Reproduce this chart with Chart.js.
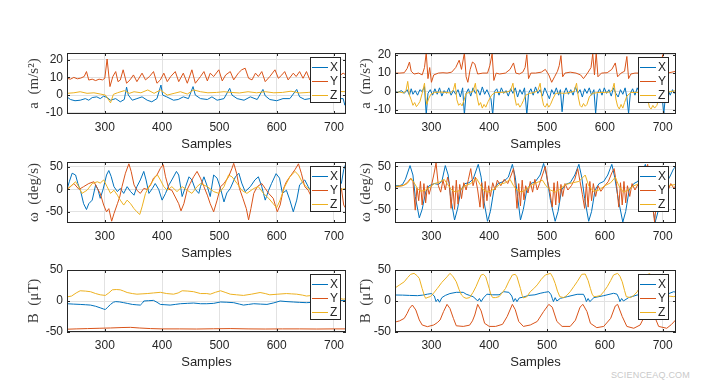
<!DOCTYPE html>
<html>
<head>
<meta charset="utf-8">
<script src="https://cdn.jsdelivr.net/npm/chart.js@4.4.1/dist/chart.umd.min.js"></script>
<style>
  html, body { margin: 0; padding: 0; background: #fff; }
  body { width: 707px; height: 384px; position: relative; overflow: hidden; }
  .panel { position: absolute; }
  .mark { position: absolute; right: 17px; top: 370px; font: 9px "Liberation Sans", Arial, sans-serif; color: #c9c9c9; letter-spacing: 0.2px; }
</style>
</head>
<body>
<div class="mark">SCIENCEAQ.COM</div>
<script>
// series labels / colours (MATLAB defaults)
const seriesNames = ['X', 'Y', 'Z'];
const seriesColors = ['#0072BD', '#D95319', '#EDB120'];

// tick labels
const sampleTicks = [300, 400, 500, 600, 700];
const accTicks = [-10, 0, 10, 20];
const gyroTicks = [-50, 0, 50];
const magTicks = [-50, 0, 50];

// axis limits
const leftSampleRange = [234, 721];
const rightSampleRange = [237, 723];
const accLeftRange = [-10.7, 23.8];
const accRightRange = [-12.2, 20.9];
const gyroLeftRange = [-75, 61];
const gyroRightRange = [-82, 60.4];
const magRange = [-50, 50];

// ---- accelerometer, left ----  [sample, value]
const accLeftX = [[234,-1],[240,-2.5],[248,-3.2],[257,-2.9],[266,-2],[272,-2.9],[278,-1.4],[286,-1],[292,-2],[298,-0.6],[304,-1.4],[310,-2.9],[319,-2],[327,-3.8],[334,-2.5],[338,4.5],[341,0],[348,-2.9],[356,-2],[365,-1],[374,-2.9],[382,-3.8],[391,-2],[398,5.7],[401,0],[408,-1],[420,-2.9],[428,-2.5],[437,-1],[446,-2],[454,4.8],[458,0],[467,-2],[479,-2.5],[487,-1],[496,-2.9],[508,-2],[518,3.8],[522,0],[531,-2],[543,-2.9],[554,-1],[566,-2.5],[576,3.2],[580,-0.4],[588,-2.5],[600,-3.2],[611,-2],[623,-2],[635,3.2],[640,-1],[649,-2.5],[658,-2],[667,-3],[676,-1.5],[684,3],[688,-1],[696,-2.5],[706,-2],[716,-2],[719,-5.7],[721,-3]];
const accLeftY = [[234,9.5],[240,9],[246,10],[252,9.2],[258,9.6],[264,10.5],[268,13.3],[272,8.5],[278,9],[284,8.2],[290,9],[296,8.6],[300,9.5],[304,20.4],[309,4.8],[314,10.5],[319,13.3],[323,7.6],[327,8.5],[332,14.3],[338,6.7],[344,8.6],[350,11.4],[356,7.6],[365,12.4],[371,8.6],[378,10.5],[385,13.3],[391,6.7],[397,8.6],[403,12.4],[409,7.6],[415,10.5],[423,13.3],[429,7.6],[437,12.4],[444,6.7],[452,14.3],[458,6.7],[467,10.5],[473,13.3],[479,8],[484,12.4],[490,10.5],[499,14.3],[505,8],[511,11.4],[519,13.3],[525,8.6],[533,12.4],[539,14.3],[545,15.2],[551,9.5],[557,8.6],[563,12.4],[568,10.5],[574,13.3],[580,7.6],[588,10.5],[597,14.3],[603,9.5],[609,11.4],[614,13.3],[620,8.6],[629,12.4],[634,10.5],[640,13.3],[646,9.5],[652,13.3],[658,8.5],[664,12],[670,9],[676,14],[682,8],[690,11],[697,13.5],[703,8.5],[710,11],[716,12.4],[721,11.4]];
const accLeftZ = [[234,1],[246,1.3],[257,1.9],[269,1],[281,1.3],[292,0.6],[301,0],[307,-2.9],[310,-4.4],[315,0.4],[322,1.3],[334,2.5],[343,1],[351,1.9],[363,1.3],[375,2.9],[386,1],[397,2.9],[409,0],[421,1],[432,1.9],[444,0.6],[455,2.9],[467,1.9],[480,1.3],[495,1.5],[508,1.9],[520,1.5],[535,1.2],[550,1.9],[565,1.3],[580,1.9],[595,1.3],[610,1.5],[625,2.2],[640,1.2],[655,1.5],[670,1.9],[685,1.3],[700,1.9],[712,2],[721,1.9]];

// ---- accelerometer, right ----
const accRightX = [[237,0],[242,-0.5],[248,0.5],[253,-1],[258,1],[262,-2],[265,1.5],[268,-1.5],[272,0.5],[276,-2],[280,1],[284,0],[288,2.7],[291,-12.7],[294,-1],[298,1],[302,-2],[306,1.5],[310,-1.5],[314,2],[318,-2.5],[322,0.5],[326,-1],[330,2],[334,-2],[338,0.5],[342,-1.5],[346,1],[350,-3],[354,2],[357,-12.7],[360,-1],[364,1.5],[368,-2.5],[372,2],[376,-1],[380,1],[384,-2],[388,2.5],[392,-1.5],[396,1],[400,-2],[403,-4],[406,-12.7],[409,0],[413,1.5],[417,-2],[421,2],[425,-1],[429,0.5],[433,-2.5],[437,1.5],[441,-1],[445,2],[449,-3],[453,1],[457,-1.5],[461,2],[465,-12.5],[468,-1],[472,1.5],[476,-2],[480,2.5],[484,-1],[488,1],[492,-2.5],[496,2],[500,-1],[504,-4],[508,1],[512,-1.5],[516,2],[520,-2],[523,1],[526,-11],[529,-1],[533,2],[537,-1.5],[541,1],[545,-2],[549,2.5],[553,-1],[557,1],[561,-3],[565,1.5],[569,-1],[573,2],[577,-2],[581,1],[584,-12],[587,-1],[591,1.5],[595,-2],[599,2],[603,-1],[607,1],[611,-2.5],[615,2],[619,-1],[623,-3],[627,1],[631,-1.5],[635,2],[638,-3],[641,-12],[644,-1],[648,1.5],[652,-2],[656,2],[660,-1],[664,1],[668,-2],[672,2],[676,-1.5],[680,1],[684,-2],[688,2],[692,-1],[696,1],[699,-3],[702,-12],[705,-1],[709,1.5],[713,-2],[717,1],[720,-1],[723,0.5]];
const accRightY = [[237,10],[245,10],[253,10.2],[258,12.5],[262,16],[265,11],[270,9.5],[278,10],[284,9],[288,13],[291,21],[294,7],[297,13],[300,5],[304,9],[312,10],[320,10.2],[327,10],[335,10.5],[342,13],[348,17],[352,12],[357,21],[360,8],[363,5],[367,12],[371,16],[375,15],[380,9.5],[389,10],[397,10],[401,14],[405,20.5],[408,6],[412,10],[418,9.5],[428,10],[436,12],[442,15.5],[446,10],[452,9.5],[458,10.5],[462,13],[465,20],[468,7],[472,10],[480,10],[490,10.5],[497,12],[503,9],[508,5],[513,8],[518,11],[521,14],[524,19.5],[527,8],[531,10],[540,10.5],[550,10],[558,9],[563,7],[570,10],[576,13],[579,20.5],[582,9],[585,21],[588,8],[594,10],[604,10.2],[612,12],[618,15.5],[622,8],[628,10],[634,11],[638,19],[641,7],[645,9.5],[652,10],[660,10],[668,11],[674,15],[678,9],[684,10],[690,10],[696,12],[700,20],[703,6],[708,10],[716,10.5],[723,11]];
const accRightZ = [[237,-0.5],[245,-0.3],[252,-0.8],[256,0.5],[259,5.5],[262,-2],[265,-4.5],[268,-7.5],[271,-6],[274,-8.2],[277,-7],[280,-5.5],[284,-1],[288,4.5],[290,-3],[292,-7],[295,-4],[299,-1.5],[305,-0.5],[315,-0.3],[325,-0.5],[333,-0.8],[338,1],[341,4.5],[344,-4.5],[347,-7.5],[350,-6.5],[353,-7.8],[356,-5],[360,-1],[366,-0.5],[372,0],[376,4.5],[379,-3],[382,-7.5],[385,-6],[388,-9],[391,-7],[394,-8.5],[398,-5.5],[404,-2],[410,-0.5],[420,-0.5],[430,-0.3],[437,0.5],[441,4.5],[444,-3],[447,-7.5],[450,-6.5],[453,-8.5],[456,-7],[459,-5],[463,-2],[470,-1],[478,-0.5],[484,0.5],[488,4.5],[491,-3],[494,-7.5],[497,-8.5],[500,-6.5],[503,-8.5],[506,-7],[510,-4],[515,-1],[522,-0.8],[530,-1],[540,-0.5],[547,0.2],[551,4.5],[554,-3],[557,-7.5],[560,-8.5],[563,-6.5],[566,-8],[569,-7],[573,-3],[578,-1],[590,-0.5],[600,-0.5],[608,-0.3],[613,1],[616,4.5],[619,-4],[622,-8],[625,-9.5],[628,-7],[631,-9],[634,-6],[638,-2.5],[645,-0.5],[655,-0.5],[664,-0.8],[668,0.5],[671,4],[674,-4],[677,-8.5],[680,-9.5],[683,-7.5],[686,-9],[690,-7.5],[694,-3],[700,-1],[710,-0.3],[723,0.5]];

// ---- gyroscope, left ----
const gyroLeftX = [[234,0],[238,17],[243,36],[249,32],[253,13],[258,-5],[263,-32],[268,-45],[272,-32],[278,-24],[284,10],[288,0],[292,-20],[297,0],[303,32],[307,42],[311,29],[316,6],[322,-5],[327,2],[333,-9],[339,6],[345,-5],[351,-13],[356,6],[362,21],[368,40],[372,21],[377,-9],[383,2],[388,13],[394,0],[400,-24],[406,-9],[412,10],[417,21],[425,40],[429,32],[435,-16],[441,6],[447,28],[452,21],[458,0],[464,-9],[467,6],[473,28],[479,6],[484,-16],[490,32],[496,25],[502,2],[508,-28],[513,-8],[519,2],[528,28],[534,36],[539,14],[545,-5],[554,6],[562,21],[568,28],[574,6],[580,-24],[586,-2],[591,13],[599,35],[605,25],[610,-9],[617,-2],[623,-24],[629,-50],[635,-24],[640,10],[649,21],[655,6],[662,-10],[670,15],[678,-20],[686,25],[694,-5],[702,-30],[708,5],[713,14],[717,44],[721,58]];
const gyroLeftY = [[234,0],[240,6],[246,13],[255,0],[263,6],[272,13],[281,17],[287,2],[292,-9],[298,-35],[303,-50],[307,-43],[312,-71],[316,-54],[322,-32],[326,-17],[330,6],[336,36],[342,57],[346,40],[351,10],[356,-2],[362,-9],[368,2],[374,0],[380,10],[385,25],[391,32],[397,47],[402,55],[406,28],[412,0],[417,-2],[423,-17],[429,-32],[433,-48],[438,-32],[444,0],[449,13],[455,28],[461,40],[467,25],[473,6],[479,-13],[484,-32],[490,-50],[496,-24],[502,6],[508,13],[516,28],[522,47],[525,58],[530,36],[535,2],[541,-20],[547,-43],[551,-68],[555,-43],[560,-9],[566,6],[574,13],[580,2],[586,-9],[594,-20],[601,-50],[606,-35],[612,2],[617,17],[623,28],[632,44],[638,57],[643,36],[649,6],[655,-2],[662,-20],[670,-45],[678,-10],[686,20],[694,45],[700,10],[707,-15],[713,2],[717,-35],[721,-43]];
const gyroLeftZ = [[234,0],[243,10],[249,17],[255,5],[260,-9],[269,-2],[278,13],[287,17],[292,14],[298,21],[304,6],[310,-9],[316,-2],[322,-13],[327,-24],[333,-35],[339,-24],[345,-32],[351,-43],[356,-50],[361,-56],[365,-39],[371,-9],[377,6],[383,17],[388,28],[392,32],[397,21],[403,6],[409,-2],[417,6],[426,-5],[435,6],[444,-2],[452,-9],[461,6],[467,13],[479,6],[490,-5],[499,-9],[508,6],[516,32],[522,28],[531,13],[539,-2],[548,-9],[560,2],[568,6],[577,-9],[586,-20],[594,-32],[600,-41],[606,-24],[614,6],[623,28],[632,40],[638,32],[646,13],[655,2],[665,-10],[675,-25],[685,-5],[695,15],[705,5],[713,0],[721,2]];

// ---- gyroscope, right ----
const gyroRightX = [[237,5],[245,5],[250,8],[255,20],[263,52],[268,30],[272,-20],[279,-70],[284,-50],[290,-10],[296,5],[305,10],[312,8],[318,15],[324,52],[329,30],[333,-20],[340,-75],[345,-50],[351,-5],[358,10],[365,12],[372,20],[381,55],[386,25],[390,-25],[397,-78],[402,-55],[408,-5],[415,10],[425,15],[433,25],[440,55],[445,25],[449,-20],[454,-75],[459,-50],[465,-5],[472,10],[480,15],[488,30],[494,57],[499,30],[506,-30],[514,-78],[519,-55],[525,-5],[532,8],[540,12],[548,30],[555,55],[560,25],[565,-25],[572,-78],[577,-55],[583,-5],[590,10],[598,15],[605,30],[612,55],[617,25],[623,-25],[631,-80],[636,-55],[642,-5],[650,10],[657,15],[663,30],[670,55],[675,25],[680,-25],[687,-80],[692,-55],[698,-10],[705,10],[712,25],[719,45],[723,50]];
const gyroRightY = [[237,2],[245,4],[252,6],[258,12],[264,22],[268,15],[272,-52],[275,0],[278,-30],[281,15],[284,-40],[287,10],[290,-35],[293,5],[296,-15],[300,5],[304,30],[308,58],[312,5],[316,-10],[320,18],[324,-5],[328,25],[331,10],[334,-48],[337,5],[340,-50],[343,18],[346,-38],[349,8],[352,-25],[356,12],[360,-5],[364,20],[368,45],[372,5],[376,25],[380,-5],[384,-45],[387,12],[390,-48],[393,15],[396,-30],[399,5],[402,-20],[406,12],[410,-5],[414,18],[420,5],[426,20],[432,10],[438,30],[442,45],[445,5],[448,-48],[451,10],[454,-42],[457,18],[460,-28],[463,5],[467,-12],[471,15],[475,-10],[479,20],[483,-5],[487,10],[492,30],[497,50],[501,15],[505,-10],[509,-45],[512,12],[515,-40],[518,15],[521,-35],[524,8],[527,-20],[531,10],[536,-5],[542,5],[548,20],[553,45],[557,15],[561,-15],[565,-48],[568,10],[571,-45],[574,15],[577,-30],[580,10],[584,-20],[588,5],[593,-8],[600,5],[606,15],[612,35],[616,45],[620,10],[624,-45],[627,12],[630,-40],[633,15],[636,-35],[639,5],[643,-20],[647,10],[652,-5],[658,10],[664,25],[670,40],[674,55],[678,10],[682,-35],[686,-80],[690,-20],[694,10],[698,-30],[702,5],[708,-10],[714,10],[719,0],[723,5]];
const gyroRightZ = [[237,3],[250,5],[258,10],[265,22],[270,12],[276,-2],[282,-8],[290,-5],[298,2],[305,10],[315,14],[322,20],[328,8],[335,-5],[342,-10],[350,-5],[358,5],[368,10],[378,22],[384,8],[390,-5],[398,-10],[408,-3],[418,8],[428,12],[436,20],[442,5],[448,-5],[456,-10],[465,-2],[475,8],[485,14],[492,18],[498,5],[506,-5],[514,-10],[522,-3],[532,8],[545,12],[555,15],[566,30],[572,5],[580,-8],[590,-5],[600,5],[610,12],[618,25],[624,5],[632,-10],[640,-5],[650,5],[660,10],[670,20],[678,5],[688,-10],[698,-3],[708,5],[723,8]];

// ---- magnetometer, left ----
const magLeftX = [[234,-4.4],[245,-5],[257,-5.5],[266,-6],[275,-6.6],[284,-8.5],[292,-11],[298,-13],[301,-13.7],[305,-10],[310,-5.5],[315,-2],[319,-1],[326,-1.5],[333,-2.7],[340,-4],[348,-5.5],[356,-6.2],[362,-6.6],[366,-3],[368,0],[376,0.5],[385,1],[391,-2],[397,-5.5],[405,-6],[414,-6.6],[423,-5.5],[432,-4.4],[444,-3.8],[455,-3.3],[467,-4.4],[478,-4.4],[490,-3.8],[502,-1.6],[513,-2],[525,-2.7],[535,-5],[542,-6.6],[551,-5.5],[560,-4.4],[572,-5],[583,-5.5],[595,-3],[606,0],[618,-1],[629,-1.6],[640,-2.2],[652,-2.7],[665,-2],[678,-1.5],[690,-1],[702,0],[716,1],[721,0.5]];
const magLeftY = [[234,-45.5],[250,-45],[270,-44.5],[290,-44],[310,-43.5],[330,-42.8],[345,-42.5],[360,-43.5],[380,-44.5],[400,-45],[430,-45],[460,-45.2],[490,-44.8],[520,-44.5],[550,-45],[580,-45.2],[610,-45],[640,-45],[670,-45.2],[700,-45],[721,-45]];
const magLeftZ = [[234,6.6],[242,8],[250,13],[257,16.5],[266,16],[275,15],[284,12],[292,10],[301,9],[307,13],[313,18],[320,18.5],[327,18],[333,16],[339,13.7],[348,12],[356,11],[365,11.5],[374,12],[385,13],[397,14],[408,12],[420,11],[428,13],[435,16.5],[445,16],[455,15],[467,12],[478,12],[484,11],[493,14],[502,16.5],[510,14],[519,11],[530,10],[542,9],[556,11],[571,13.7],[580,12],[588,10],[602,11],[617,12],[626,11.5],[635,11],[645,9.5],[652,8],[662,9],[672,10],[682,10],[692,8],[702,6],[710,4],[716,3],[721,3.5]];

// ---- magnetometer, right ----
const magRightX = [[237,9.7],[250,9.5],[262,9],[276,8.6],[285,9.5],[293,11],[300,12],[305,8],[308,-1],[311,3],[314,-2],[318,5.4],[324,9],[332,12],[343,14],[355,14],[360,11],[366,9],[372,7],[377,3],[380,0],[383,4],[386,-1],[390,5],[396,11],[406,10],[417,10],[425,15],[434,14],[439,8],[442,-1],[445,4],[448,-1],[452,5],[458,6],[468,9],[479,10],[488,12.4],[496,14],[503,15],[507,10],[509,4.3],[511,-1],[514,5.4],[517,0],[523,4.3],[535,7],[552,10.8],[563,10.8],[566,5],[568,-1],[571,4],[574,-1],[581,5.4],[598,8.6],[615,12.4],[621,11],[624,5],[626,-1],[629,4],[632,0],[641,5.4],[656,9.7],[670,12],[678,11],[681,5],[684,-1],[687,4],[690,0],[697,6],[708,11],[719,15],[723,14]];
const magRightY = [[237,-34],[245,-32],[253,-28],[258,-20],[262,-12],[267,-6.5],[273,-14.5],[279,-30.6],[284,-38.7],[293,-41.4],[304,-38.7],[310,-35],[315,-30.6],[321,-17],[327,-5.4],[332,-12],[338,-28],[343,-40],[355,-41],[366,-39],[371,-32],[375,-22.6],[380,-5.4],[386,-16],[392,-36],[400,-41],[411,-41],[423,-37.6],[431,-25],[440,-5.4],[445,-14],[451,-33],[459,-41],[471,-38.7],[483,-33],[494,-17],[503,-5.4],[509,-10],[517,-33],[526,-41],[540,-41],[549,-31],[557,-10],[562,-5.4],[569,-17],[575,-36],[586,-43],[598,-41],[610,-28],[618,-8],[622,-5.4],[630,-25],[638,-41],[650,-44],[661,-38.7],[670,-22],[676,-8],[680,-5],[686,-25],[693,-41],[707,-44],[715,-38],[723,-30]];
const magRightZ = [[237,21],[245,26],[253,31],[259,38],[264,43],[270,44.6],[275,41],[279,36.5],[284,20],[288,8],[290,4.3],[294,6],[298,7],[304,13],[310,20],[318,30],[327,39],[332,44.6],[337,40],[343,31],[348,18],[352,9.7],[356,6],[360,4.3],[366,5.4],[372,14],[377,23],[382,34],[386,42],[390,43],[394,39],[400,20],[403,10],[406,5.4],[411,5.5],[417,7],[423,14],[428,20],[434,32],[440,42],[445,43],[448,39],[454,20],[457,9],[459,5],[465,7],[471,15],[477,20],[483,26],[490,35],[497,42],[506,44.6],[510,38],[514,28.5],[518,16],[522,7],[529,5.4],[534,9],[540,15],[546,23],[552,31],[560,43],[566,43.5],[571,33],[575,20],[578,11],[581,7],[586,7.5],[592,8.6],[598,15],[604,23],[610,33],[615,42],[622,44.6],[626,40],[630,31],[634,17],[637,7],[644,5.4],[650,9],[656,15],[662,25],[668,35],[674,43],[678,44],[683,35],[688,20],[693,11],[700,9],[710,8],[719,7],[723,8]];

const panels = [
  { col: 0, row: 0, series: [accLeftX, accLeftY, accLeftZ], xr: leftSampleRange, yr: accLeftRange, yt: accTicks, title: 'a  (m/s²)' },
  { col: 1, row: 0, series: [accRightX, accRightY, accRightZ], xr: rightSampleRange, yr: accRightRange, yt: accTicks, title: 'a  (m/s²)' },
  { col: 0, row: 1, series: [gyroLeftX, gyroLeftY, gyroLeftZ], xr: leftSampleRange, yr: gyroLeftRange, yt: gyroTicks, title: 'ω  (deg/s)' },
  { col: 1, row: 1, series: [gyroRightX, gyroRightY, gyroRightZ], xr: rightSampleRange, yr: gyroRightRange, yt: gyroTicks, title: 'ω  (deg/s)' },
  { col: 0, row: 2, series: [magLeftX, magLeftY, magLeftZ], xr: leftSampleRange, yr: magRange, yt: magTicks, title: 'B  (μT)' },
  { col: 1, row: 2, series: [magRightX, magRightY, magRightZ], xr: rightSampleRange, yr: magRange, yt: magTicks, title: 'B  (μT)' }
];

// page geometry
const cols = [
  { left: 0, width: 352, plotLeft: 67, plotRight: 346, titlePad: 25, legendOff: 36 },
  { left: 352, width: 355, plotLeft: 395, plotRight: 676, titlePad: 5, legendOff: 38 }
];
const rows = [ { top: 53, bottom: 114 }, { top: 162, bottom: 223 }, { top: 270, bottom: 332 } ];
const PAD_TOP = 12, X_AXIS_H = 42;
const ink = '#262626';
const gridColor = '#e2e2e2';
const sans = '"Liberation Sans", Arial, Helvetica, sans-serif';
const serif = '"Liberation Serif", "Times New Roman", serif';

Chart.defaults.font.family = sans;

// axes box, inward tick marks and the boxed legend
const framePlugin = {
  id: 'frame',
  afterDatasetsDraw(chart) {
    const { ctx, chartArea: a, scales: { x, y } } = chart;
    ctx.save();
    ctx.strokeStyle = ink;
    ctx.lineWidth = 1;
    ctx.strokeRect(a.left + 0.5, a.top + 0.5, a.right - a.left - 1, a.bottom - a.top - 1);
    ctx.beginPath();
    x.ticks.forEach(t => {
      const px = Math.round(x.getPixelForValue(t.value)) + 0.5;
      ctx.moveTo(px, a.bottom); ctx.lineTo(px, a.bottom - 3);
      ctx.moveTo(px, a.top); ctx.lineTo(px, a.top + 3);
    });
    y.ticks.forEach(t => {
      const py = Math.round(y.getPixelForValue(t.value)) + 0.5;
      ctx.moveTo(a.left, py); ctx.lineTo(a.left + 3, py);
      ctx.moveTo(a.right, py); ctx.lineTo(a.right - 3, py);
    });
    ctx.stroke();

    const off = chart.options.plugins.frame.legendOff;
    const lx = Math.round(a.right - off), ly = Math.round(a.top + 4), lw = 30, lh = 45;
    ctx.fillStyle = '#fff';
    ctx.fillRect(lx, ly, lw, lh);
    ctx.strokeStyle = ink;
    ctx.strokeRect(lx + 0.5, ly + 0.5, lw, lh);
    ctx.font = '12px ' + sans;
    ctx.textBaseline = 'middle';
    chart.data.datasets.forEach((ds, i) => {
      const yy = Math.round(ly + 10 + i * 13.8) + 0.5;
      ctx.strokeStyle = ds.borderColor;
      ctx.beginPath(); ctx.moveTo(lx + 2, yy); ctx.lineTo(lx + 18, yy); ctx.stroke();
      ctx.fillStyle = ink;
      ctx.fillText(ds.label, lx + 20, yy);
    });
    ctx.restore();
  }
};

panels.forEach(p => {
  const c = cols[p.col], r = rows[p.row];
  const h = PAD_TOP + (r.bottom - r.top) + X_AXIS_H;
  const wrap = document.createElement('div');
  wrap.className = 'panel';
  wrap.style.left = c.left + 'px';
  wrap.style.top = (r.top - PAD_TOP) + 'px';
  const canvas = document.createElement('canvas');
  canvas.width = c.width; canvas.height = h;
  canvas.style.width = c.width + 'px'; canvas.style.height = h + 'px';
  wrap.appendChild(canvas);
  document.body.appendChild(wrap);

  new Chart(canvas, {
    type: 'line',
    data: {
      datasets: p.series.map((pts, i) => ({
        label: seriesNames[i], data: pts,
        borderColor: seriesColors[i], borderWidth: 1,
        pointRadius: 0, tension: 0, fill: false, order: 3 - i
      }))
    },
    options: {
      responsive: false, animation: false, devicePixelRatio: 1,
      layout: { padding: { top: PAD_TOP, left: 0, bottom: 0, right: c.left + c.width - c.plotRight } },
      plugins: { legend: { display: false }, tooltip: { enabled: false }, frame: { legendOff: c.legendOff } },
      scales: {
        x: {
          type: 'linear', min: p.xr[0], max: p.xr[1],
          afterBuildTicks: s => { s.ticks = sampleTicks.map(v => ({ value: v })); },
          afterFit: s => { s.height = X_AXIS_H; },
          grid: { color: gridColor, drawTicks: false },
          border: { display: false },
          ticks: { padding: 6, color: ink, font: { size: 12 }, maxRotation: 0, autoSkip: false },
          title: { display: true, text: 'Samples', color: ink, font: { size: 13 }, padding: { top: 0, bottom: 4 } }
        },
        y: {
          min: p.yr[0], max: p.yr[1],
          afterBuildTicks: s => { s.ticks = p.yt.map(v => ({ value: v })); },
          afterFit: s => { s.width = c.plotLeft - c.left; },
          grid: { color: gridColor, drawTicks: false },
          border: { display: false },
          ticks: { padding: 4, color: ink, font: { size: 12 }, autoSkip: false },
          title: { display: true, text: p.title, color: '#3a3a3a', font: { family: serif, size: 15 }, padding: { top: c.titlePad, bottom: 0 } }
        }
      }
    },
    plugins: [framePlugin]
  });
});
</script>
</body>
</html>
